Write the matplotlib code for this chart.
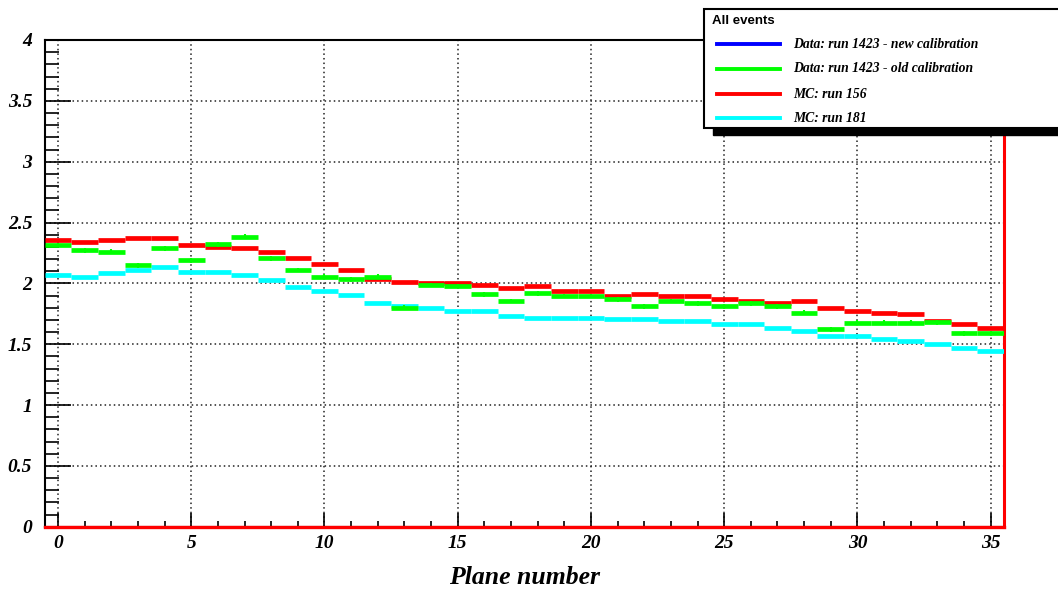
import numpy as np
import matplotlib
matplotlib.use("Agg")
import matplotlib.pyplot as plt
from matplotlib.patches import Rectangle
from matplotlib.lines import Line2D
from matplotlib.ticker import MultipleLocator

# Plane numbers (bin centres) and the mean value per plane for each sample
planes = list(range(36))

data_old = [2.315, 2.27, 2.26, 2.15, 2.288, 2.19, 2.32, 2.383, 2.205, 2.11,
            2.054, 2.033, 2.054, 1.80, 1.986, 1.978, 1.91, 1.855, 1.918, 1.896,
            1.896, 1.868, 1.813, 1.855, 1.835, 1.813, 1.835, 1.813, 1.759, 1.622,
            1.676, 1.676, 1.676, 1.68, 1.589, 1.589]
data_old_err = [0.02] * 36

mc_156 = [2.356, 2.342, 2.356, 2.37, 2.37, 2.315, 2.30, 2.288, 2.26, 2.205,
          2.156, 2.11, 2.033, 2.013, 2.0, 2.0, 1.986, 1.959, 1.978, 1.937,
          1.937, 1.896, 1.91, 1.896, 1.896, 1.868, 1.855, 1.841, 1.855, 1.80,
          1.773, 1.759, 1.745, 1.69, 1.663, 1.635]

mc_181 = [2.068, 2.054, 2.087, 2.109, 2.136, 2.095, 2.095, 2.068, 2.027, 1.972,
          1.934, 1.906, 1.835, 1.813, 1.80, 1.775, 1.773, 1.731, 1.717, 1.717,
          1.717, 1.704, 1.704, 1.69, 1.69, 1.663, 1.663, 1.635, 1.608, 1.567,
          1.567, 1.54, 1.526, 1.499, 1.471, 1.444]

legend_title = "All events"
legend_labels = ["Data: run 1423 - new calibration",
                 "Data: run 1423 - old calibration",
                 "MC: run 156",
                 "MC: run 181"]
legend_colors = ["#0000ff", "#00ff00", "#ff0000", "#00ffff"]

W, H = 1058, 591
fig = plt.figure(figsize=(W / 100, H / 100), dpi=100)
ax = fig.add_axes([44.7 / W, 1 - 526.7 / H, (1004 - 44.7) / W, (526.7 - 40) / H])

serif = ["Liberation Serif", "DejaVu Serif"]

x = np.array(planes)
lo, hi = x - 0.5, x + 0.5

# each bin drawn as a flat segment, ROOT style
ax.hlines(mc_181, lo, hi, colors="#00ffff", lw=3.4, zorder=3)
ax.hlines(mc_156, lo, hi, colors="#ff0000", lw=3.4, zorder=4)
ax.hlines(data_old, lo, hi, colors="#00ff00", lw=3.4, zorder=5)
ax.vlines(x, np.array(data_old) - data_old_err, np.array(data_old) + data_old_err,
          colors="#00ff00", lw=1.5, zorder=5)

ax.set_xlim(-0.5, 35.5)
ax.set_ylim(0, 4)

ax.xaxis.set_major_locator(MultipleLocator(5))
ax.xaxis.set_minor_locator(MultipleLocator(1))
ax.yaxis.set_major_locator(MultipleLocator(0.5))
ax.yaxis.set_minor_locator(MultipleLocator(0.1))
ax.tick_params(axis="both", which="both", direction="in", top=False, right=False,
               width=1.2, color="black")
ax.tick_params(axis="y", which="major", length=19, pad=9)
ax.tick_params(axis="y", which="minor", length=10)
ax.tick_params(axis="x", which="major", length=10, pad=6)
ax.tick_params(axis="x", which="minor", length=4.5)

ax.set_yticks([0, 0.5, 1, 1.5, 2, 2.5, 3, 3.5, 4])
ax.set_yticklabels(["0", "0.5", "1", "1.5", "2", "2.5", "3", "3.5", "4"])
for lab in ax.get_xticklabels() + ax.get_yticklabels():
    lab.set_family(serif)
    lab.set_fontweight("bold")
    lab.set_fontstyle("italic")
    lab.set_fontsize(14)

ax.grid(True, which="major", color="#222222", linestyle=(0, (1, 2)), lw=1.1)
ax.set_axisbelow(True)

ax.set_xlabel("Plane number", family=serif, fontweight="bold", fontstyle="italic",
              fontsize=18.5, labelpad=10)

for s in ax.spines.values():
    s.set_linewidth(1.5)
ax.spines["right"].set_color("#ff0000")
ax.spines["right"].set_linewidth(2.2)
ax.axhline(0, color="#ff0000", lw=2.4, zorder=6, clip_on=False)

# legend box with ROOT drop shadow, pixel coords
def px(xp, yp):
    return xp / W, 1 - yp / H

bx0, by0, bx1, by1 = 704, 9, 1070, 128
sh = Rectangle(px(bx0 + 9, by1 + 7), (bx1 - bx0) / W, (by1 - by0) / H,
               transform=fig.transFigure, facecolor="black", edgecolor="black", zorder=10)
box = Rectangle(px(bx0, by1), (bx1 - bx0) / W, (by1 - by0) / H,
                transform=fig.transFigure, facecolor="white", edgecolor="black",
                lw=1.5, zorder=11)
fig.add_artist(sh)
fig.add_artist(box)
tx, ty = px(712, 21)
fig.text(tx, ty, legend_title, family=["Liberation Sans", "DejaVu Sans"],
         fontweight="bold", fontsize=9.5, va="center", ha="left", zorder=12)
entry_y = [44, 69, 94, 118]
for yy, lab, col in zip(entry_y, legend_labels, legend_colors):
    x0, y0 = px(717, yy)
    x1, _ = px(780, yy)
    fig.add_artist(Line2D([x0, x1], [y0, y0], transform=fig.transFigure,
                          color=col, lw=2.8, zorder=12))
    tx, ty = px(793, yy)
    fig.text(tx, ty, lab, family=serif, fontweight="bold", fontstyle="italic",
             fontsize=9.8, va="center", ha="left", zorder=12)

fig.savefig("out.png", dpi=100)
